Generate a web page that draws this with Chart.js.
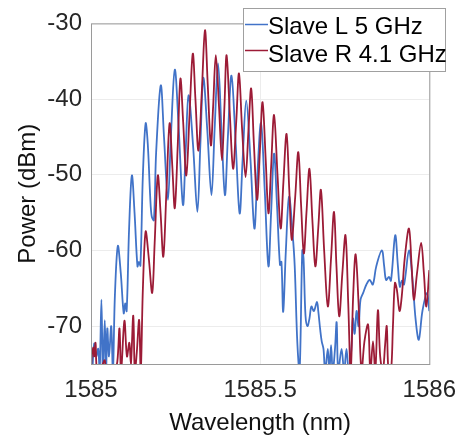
<!DOCTYPE html>
<html>
<head>
<meta charset="utf-8">
<title>Slave comb spectra</title>
<script src="https://cdn.jsdelivr.net/npm/chart.js@4.4.1/dist/chart.umd.min.js"></script>
<style>
  html, body { margin: 0; padding: 0; background: #ffffff; }
  #wrap { width: 468px; height: 436px; }
</style>
</head>
<body>
<div id="wrap"><canvas id="spectrumChart" width="468" height="436"></canvas></div>
<script>
// Wavelength (nm) and power (dBm) for each trace
const slaveLWavelength = [
  1585.0038, 1585.0096, 1585.0154, 1585.0212, 1585.0256, 1585.0308, 1585.0351, 1585.0407,
  1585.0444, 1585.0482, 1585.0532, 1585.0598, 1585.0648, 1585.0706, 1585.0793, 1585.0880,
  1585.0967, 1585.1011, 1585.1054, 1585.1127, 1585.1208, 1585.1287, 1585.1374, 1585.1417,
  1585.1461, 1585.1534, 1585.1615, 1585.1679, 1585.1751, 1585.1795, 1585.1859, 1585.1926,
  1585.2062, 1585.2158, 1585.2274, 1585.2361, 1585.2477, 1585.2594, 1585.2719, 1585.2797,
  1585.2884, 1585.3015, 1585.3145, 1585.3233, 1585.3320, 1585.3436, 1585.3561, 1585.3654,
  1585.3755, 1585.3857, 1585.3959, 1585.4046, 1585.4153, 1585.4278, 1585.4394, 1585.4482,
  1585.4589, 1585.4714, 1585.4830, 1585.4917, 1585.5025, 1585.5135, 1585.5245, 1585.5324,
  1585.5411, 1585.5498, 1585.5585, 1585.5629, 1585.5681, 1585.5760, 1585.5855, 1585.5963,
  1585.6021, 1585.6099, 1585.6166, 1585.6245, 1585.6282, 1585.6340, 1585.6398, 1585.6457,
  1585.6515, 1585.6587, 1585.6680, 1585.6718, 1585.6776, 1585.6820, 1585.6872, 1585.6921,
  1585.7000, 1585.7046, 1585.7096, 1585.7145, 1585.7212, 1585.7261, 1585.7308, 1585.7406,
  1585.7482, 1585.7552, 1585.7618, 1585.7697, 1585.7743, 1585.7793, 1585.7851, 1585.7909,
  1585.7967, 1585.8045, 1585.8141, 1585.8237, 1585.8330, 1585.8432, 1585.8597, 1585.8664,
  1585.8722, 1585.8809, 1585.8867, 1585.8992, 1585.9071, 1585.9129, 1585.9187, 1585.9254,
  1585.9399, 1585.9506, 1585.9593, 1585.9689, 1585.9797, 1585.9933, 1586.0000
];
const slaveLPower = [
  -76, -72.3, -74, -73, -76, -66.5, -76, -69.2,
  -76, -70.3, -74, -70, -76, -66, -59.4, -63,
  -68.3, -67, -68, -57, -50.1, -55, -62.1, -61.5,
  -62, -50, -43.2, -46, -53, -55.5, -56, -47,
  -38.2, -45, -53.3, -45, -36.1, -44, -54, -47,
  -39.5, -46, -54.9, -46, -37.2, -44, -52.7, -44,
  -35.3, -44, -52.7, -45, -36.9, -46, -55.1, -48,
  -40.2, -48, -57.1, -50, -43.2, -52, -62.1, -55,
  -47.2, -54, -61.9, -61.5, -68.1, -60, -52.9, -58,
  -62, -72.2, -76, -60, -61, -68.6, -70, -69,
  -67.4, -68, -66.8, -68, -70.5, -72, -73, -76,
  -73, -76, -72.5, -76, -73, -69.5, -76, -73,
  -76, -73, -76, -73, -69, -71, -68, -70,
  -66.5, -65.6, -64.5, -63.9, -64.5, -62.1, -60, -62,
  -63.9, -63.5, -64, -58, -62, -64.8, -64, -64.5,
  -60, -64, -69, -71.8, -68, -65.6, -68
];

const slaveRWavelength = [
  1585.0000, 1585.0023, 1585.0067, 1585.0096, 1585.0134, 1585.0183, 1585.0299, 1585.0407,
  1585.0444, 1585.0561, 1585.0648, 1585.0706, 1585.0778, 1585.0842, 1585.0889, 1585.0988,
  1585.1063, 1585.1133, 1585.1179, 1585.1249, 1585.1295, 1585.1353, 1585.1423, 1585.1470,
  1585.1534, 1585.1615, 1585.1708, 1585.1809, 1585.1882, 1585.1975, 1585.2056, 1585.2138,
  1585.2231, 1585.2324, 1585.2405, 1585.2477, 1585.2565, 1585.2643, 1585.2724, 1585.2817,
  1585.2913, 1585.3009, 1585.3087, 1585.3175, 1585.3276, 1585.3369, 1585.3450, 1585.3543,
  1585.3610, 1585.3689, 1585.3784, 1585.3872, 1585.3944, 1585.4008, 1585.4104, 1585.4200,
  1585.4293, 1585.4374, 1585.4467, 1585.4569, 1585.4656, 1585.4734, 1585.4816, 1585.4908,
  1585.4990, 1585.5071, 1585.5164, 1585.5245, 1585.5324, 1585.5411, 1585.5513, 1585.5606,
  1585.5687, 1585.5780, 1585.5861, 1585.5934, 1585.6035, 1585.6128, 1585.6210, 1585.6291,
  1585.6369, 1585.6457, 1585.6544, 1585.6631, 1585.6718, 1585.6796, 1585.6892, 1585.7000,
  1585.7096, 1585.7183, 1585.7255, 1585.7337, 1585.7430, 1585.7523, 1585.7604, 1585.7676,
  1585.7749, 1585.7822, 1585.7909, 1585.7996, 1585.8083, 1585.8190, 1585.8257, 1585.8336,
  1585.8403, 1585.8481, 1585.8548, 1585.8626, 1585.8693, 1585.8742, 1585.8795, 1585.8867,
  1585.8925, 1585.8983, 1585.9042, 1585.9120, 1585.9187, 1585.9274, 1585.9399, 1585.9477,
  1585.9544, 1585.9637, 1585.9759, 1585.9840, 1585.9913, 1586.0000
];
const slaveRPower = [
  -76, -74, -72.8, -74, -72.2, -76, -75.5, -74.5,
  -76, -76, -75.2, -75.5, -74.7, -70.3, -76, -69.3,
  -74, -72.2, -75, -68.6, -76, -73.5, -69.2, -76,
  -65, -57.5, -61, -65.6, -59, -50.1, -55, -60.8,
  -52, -43.2, -49, -54.4, -46, -37.3, -43, -50.1,
  -42, -34, -40, -46.8, -39, -30.9, -38, -46.1,
  -41, -34.2, -41, -48.1, -41, -34.2, -42, -49.2,
  -43, -36.6, -44, -50.3, -44, -38.6, -46, -53.3,
  -47, -40.4, -48, -55.1, -49, -42.1, -50, -57.1,
  -51, -44.6, -52, -58.6, -53, -47, -54, -60.4,
  -55, -49.2, -56, -62.1, -57, -52, -60, -67.4,
  -61, -54.9, -62, -68.7, -63, -58, -67, -76,
  -66, -60.5, -67, -76, -72, -69.8, -76, -72,
  -76, -67.9, -74, -76, -72.5, -70, -76, -76,
  -70, -64.3, -65.2, -68, -66, -61, -57.1, -62,
  -66.5, -63, -59, -63, -67.4, -62.6
];

const seriesLabels = ['Slave L 5 GHz', 'Slave R 4.1 GHz'];
const seriesColors = ['#4173c8', '#9c1b36'];
const xTickValues = [1585, 1585.5, 1586];
const yTickValues = [-70, -60, -50, -40, -30];

function toPoints(xs, ys) {
  return xs.map((x, i) => ({ x: x, y: ys[i] }));
}

Chart.defaults.font.family = "'Liberation Sans', Arial, Helvetica, sans-serif";
Chart.defaults.font.size = 24;

// MATLAB style box around the axes
const boxPlugin = {
  id: 'axesBox',
  afterDatasetsDraw(chart) {
    const { ctx, chartArea: a } = chart;
    ctx.save();
    ctx.strokeStyle = '#9a9a9a';
    ctx.lineWidth = 1;
    ctx.strokeRect(a.left + 0.5, a.top + 0.5, a.right - a.left, a.bottom - a.top);
    ctx.restore();
  }
};

// legend box in the upper right, overlapping the axes
const legendBoxPlugin = {
  id: 'legendBox',
  afterDraw(chart) {
    const ctx = chart.ctx;
    const bx = 243.5, by = 8.5, bw = 202, bh = 63;
    ctx.save();
    ctx.fillStyle = '#ffffff';
    ctx.fillRect(bx, by, bw, bh);
    ctx.strokeStyle = '#a0a0a0';
    ctx.lineWidth = 1;
    ctx.strokeRect(bx, by, bw, bh);
    ctx.font = "24px 'Liberation Sans', Arial, sans-serif";
    ctx.textBaseline = 'alphabetic';
    ctx.textAlign = 'left';
    chart.data.datasets.forEach((ds, i) => {
      const ly = 24.5 + i * 26;
      ctx.strokeStyle = ds.borderColor;
      ctx.lineWidth = 1.5;
      ctx.beginPath();
      ctx.moveTo(245, ly);
      ctx.lineTo(268, ly);
      ctx.stroke();
      ctx.fillStyle = '#000000';
      ctx.fillText(ds.label, 268, 34 + i * 27.5);
    });
    ctx.restore();
  }
};

const ctx = document.getElementById('spectrumChart').getContext('2d');
new Chart(ctx, {
  type: 'line',
  data: {
    datasets: [
      {
        label: seriesLabels[0],
        data: toPoints(slaveLWavelength, slaveLPower),
        borderColor: seriesColors[0],
        borderWidth: 1.8,
        pointRadius: 0,
        tension: 0.35,
        order: 1
      },
      {
        label: seriesLabels[1],
        data: toPoints(slaveRWavelength, slaveRPower),
        borderColor: seriesColors[1],
        borderWidth: 1.8,
        pointRadius: 0,
        tension: 0.35,
        order: 0
      }
    ]
  },
  options: {
    responsive: false,
    animation: false,
    layout: { padding: { top: 23, right: 33, left: 0, bottom: 0 } },
    plugins: {
      legend: { display: false },
      tooltip: { enabled: false }
    },
    scales: {
      x: {
        type: 'linear',
        min: 1585,
        max: 1586,
        afterBuildTicks: (s) => { s.ticks = xTickValues.map(v => ({ value: v })); },
        afterFit: (s) => { s.height = 72; },
        grid: { color: '#ececec', drawTicks: false },
        border: { display: false },
        ticks: {
          color: '#262626',
          padding: 12,
          maxRotation: 0,
          callback: (v) => String(v)
        },
        title: {
          display: true,
          text: 'Wavelength (nm)',
          color: '#111111',
          font: { size: 24, lineHeight: 1 },
          padding: { top: 0, bottom: 1 }
        }
      },
      y: {
        min: -75,
        max: -30,
        afterBuildTicks: (s) => { s.ticks = yTickValues.map(v => ({ value: v })); },
        afterFit: (s) => { s.width = 91; },
        grid: { color: '#ececec', drawTicks: false },
        border: { display: false },
        ticks: {
          color: '#262626',
          padding: 9,
          callback: (v) => String(v)
        },
        title: {
          display: true,
          text: 'Power (dBm)',
          color: '#111111',
          font: { size: 24 },
          padding: { top: 14, bottom: 0 }
        }
      }
    }
  },
  plugins: [boxPlugin, legendBoxPlugin]
});
</script>
</body>
</html>
